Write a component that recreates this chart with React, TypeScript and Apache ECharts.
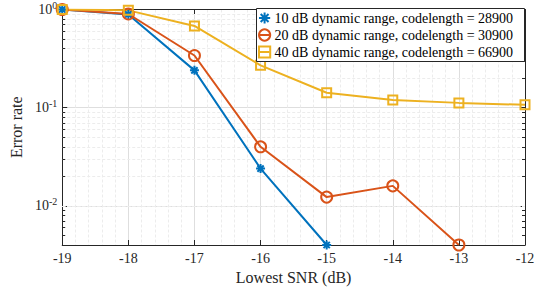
import React, { useEffect, useRef } from 'react';
import * as echarts from 'echarts';

const snr = [-19, -18, -17, -16, -15, -14, -13, -12];
const err10 = [1.0, 0.89, 0.24, 0.024, 0.004];
const err20 = [1.0, 0.9, 0.34, 0.04, 0.0123, 0.016, 0.004];
const err40 = [1.0, 0.98, 0.68, 0.27, 0.142, 0.12, 0.112, 0.107];
const seriesNames = [
  '10 dB dynamic range, codelength = 28900',
  '20 dB dynamic range, codelength = 30900',
  '40 dB dynamic range, codelength = 66900',
];
const minorY = [0.005, 0.006, 0.007, 0.008, 0.009, 0.02, 0.03, 0.04, 0.05, 0.06, 0.07, 0.08, 0.09, 0.2, 0.3, 0.4, 0.5, 0.6, 0.7, 0.8, 0.9];
const xMin = -19;
const xMax = -12;
const yMin = 0.004;
const yMax = 1;

const FONT = '"Liberation Serif", "Times New Roman", serif';
const AX = '#262626';
const ASTERISK = 'path://M5 0L5 10M0 5L10 5M1.5 1.5L8.5 8.5M1.5 8.5L8.5 1.5';

const pairs = (ys: number[]) => ys.map((y, i) => [snr[i], y]);

export default function App() {
  const ref = useRef<HTMLDivElement>(null);
  useEffect(() => {
    if (!ref.current) return;
    const chart = echarts.init(ref.current, null, { renderer: 'svg' });
    const minorGrid = minorY.map((v) => ({ yAxis: v }));
    const tickLen = 0.045;
    const minorTicks: any[] = [];
    minorY.forEach((v) => {
      minorTicks.push([{ coord: [xMin, v] }, { coord: [xMin + tickLen, v] }]);
      minorTicks.push([{ coord: [xMax - tickLen, v] }, { coord: [xMax, v] }]);
    });
    const mkLine = (color: string, width: number, type: any, data: any[], z: number) => ({
      silent: true,
      z,
      symbol: ['none', 'none'],
      label: { show: false },
      lineStyle: { color, width, type },
      emphasis: { disabled: true },
      animation: false,
      data,
    });
    const base = (name: string, ys: number[], color: string, symbol: string, size: number) => ({
      name,
      type: 'line',
      data: pairs(ys),
      symbol,
      symbolSize: size,
      showAllSymbol: true,
      lineStyle: { color, width: 2 },
      itemStyle: { color: 'rgba(255,255,255,0)', borderColor: color, borderWidth: 2 },
      z: 4,
    });
    chart.setOption({
      animation: false,
      textStyle: { fontFamily: FONT },
      grid: { left: 58, right: 21, top: 6, bottom: 46 },
      graphic: [
        {
          type: 'rect',
          left: 256,
          top: 8,
          shape: { width: 268, height: 53 },
          style: { fill: '#fff', stroke: AX, lineWidth: 1 },
          z: 10,
          silent: true,
        },
      ],
      legend: {
        left: 256,
        top: 8,
        z: 20,
        orient: 'vertical',
        padding: [3, 0, 3, 2],
        itemGap: 3,
        itemWidth: 10,
        itemHeight: 14,
        textStyle: { fontFamily: FONT, fontSize: 14, color: '#000', lineHeight: 14 },
        data: seriesNames,
      },
      xAxis: [
        {
          type: 'value',
          min: xMin,
          max: xMax,
          interval: 1,
          name: 'Lowest SNR (dB)',
          nameLocation: 'middle',
          nameGap: 20,
          nameTextStyle: { fontFamily: FONT, fontSize: 16, color: AX },
          axisLine: { show: true, lineStyle: { color: AX, width: 1 } },
          axisTick: { show: true, inside: true, length: 5, lineStyle: { color: AX } },
          axisLabel: { fontFamily: FONT, fontSize: 14, color: AX, margin: 6 },
          splitLine: { show: true, lineStyle: { color: '#dedede', width: 1 } },
          minorTick: { show: false, splitNumber: 5 },
          minorSplitLine: { show: true, lineStyle: { color: '#ececec', width: 1, type: [3, 2] } },
        },
        {
          type: 'value',
          position: 'top',
          min: xMin,
          max: xMax,
          interval: 1,
          axisLine: { show: true, onZero: false, lineStyle: { color: AX, width: 1 } },
          axisTick: { show: true, inside: true, length: 5, lineStyle: { color: AX } },
          axisLabel: { show: false },
          splitLine: { show: false },
        },
      ],
      yAxis: [
        {
          type: 'log',
          logBase: 10,
          min: yMin,
          max: yMax,
          name: 'Error rate',
          nameLocation: 'middle',
          nameGap: 30,
          nameTextStyle: { fontFamily: FONT, fontSize: 16, color: AX },
          axisLine: { show: true, lineStyle: { color: AX, width: 1 } },
          axisTick: { show: true, inside: true, length: 5, lineStyle: { color: AX } },
          splitLine: { show: true, lineStyle: { color: '#dedede', width: 1 } },
          axisLabel: {
            showMinLabel: false,
            margin: 5,
            formatter: (v: number) => {
              const e = Math.log10(v);
              if (Math.abs(e - Math.round(e)) > 1e-6) return '';
              return '{b|10}{s|' + Math.round(e) + '}';
            },
            rich: {
              b: { fontFamily: FONT, fontSize: 14, color: AX },
              s: { fontFamily: FONT, fontSize: 10, color: AX, verticalAlign: 'bottom', padding: [0, 0, 9, 0] },
            },
          },
        },
        {
          type: 'log',
          logBase: 10,
          min: yMin,
          max: yMax,
          position: 'right',
          axisLine: { show: true, onZero: false, lineStyle: { color: AX, width: 1 } },
          axisTick: { show: true, inside: true, length: 5, lineStyle: { color: AX } },
          axisLabel: { show: false },
          splitLine: { show: false },
        },
      ],
      series: [
        {
          name: '__grid',
          type: 'line',
          data: [],
          silent: true,
          z: 1,
          markLine: mkLine('#ececec', 1, [3, 2], minorGrid, 1),
        },
        {
          name: '__ticks',
          type: 'line',
          data: [],
          silent: true,
          z: 3,
          markLine: mkLine(AX, 1, 'solid', minorTicks, 3),
        },
        base(seriesNames[0], err10, '#0072BD', ASTERISK, 9),
        base(seriesNames[1], err20, '#D95319', 'circle', 11),
        base(seriesNames[2], err40, '#EDB120', 'rect', 9),
      ],
    });
    return () => chart.dispose();
  }, []);
  return <div ref={ref} style={{ width: 546, height: 291, position: 'absolute', left: 0, top: 0 }} />;
}
